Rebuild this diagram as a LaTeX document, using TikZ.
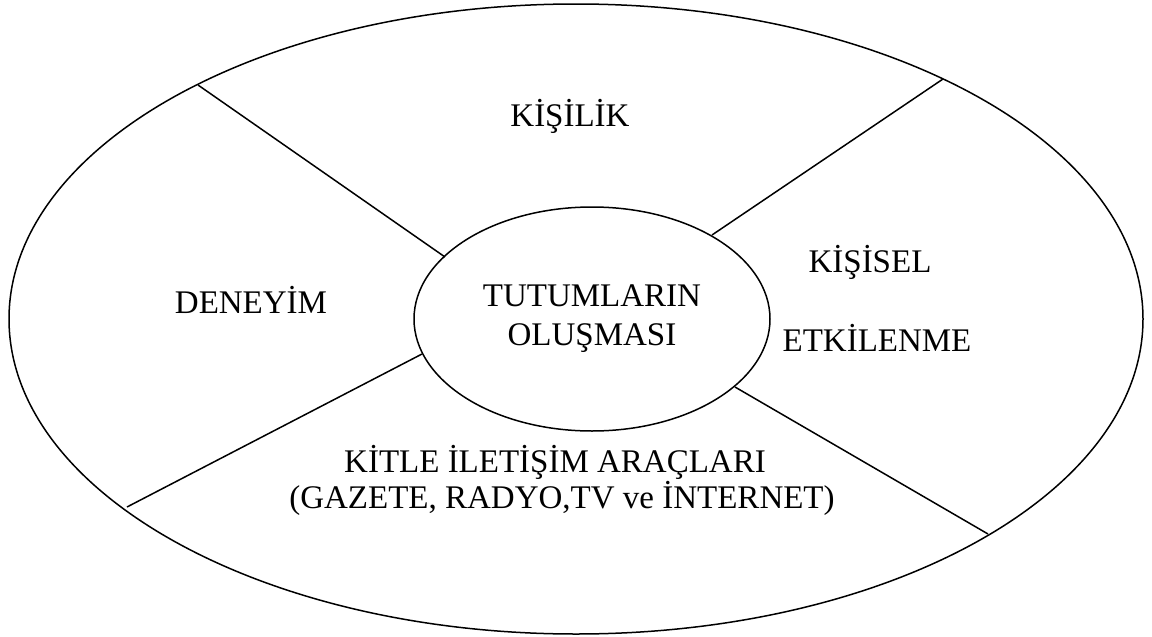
\documentclass[tikz,border=0pt]{standalone}
\usepackage{fontspec}
\setmainfont{Liberation Serif}
\usetikzlibrary{shapes.geometric}
\begin{document}
\begin{tikzpicture}[x=1pt, y=-1pt, line width=1.5pt,
  ring/.style={draw, ellipse, inner sep=0pt, outer sep=0pt},
  lbl/.style={font=\fontsize{33}{39}\selectfont, align=center, inner sep=0pt}]
\useasboundingbox (0,0) rectangle (1152,637);
% outer and inner ellipses
\node[ring, minimum width=1134pt, minimum height=630pt] (outer) at (576,319) {};
\node[ring, minimum width=356pt, minimum height=224pt, lbl] (inner) at (592,319) {TUTUMLARIN\\OLUŞMASI};
% end points of the four dividers
\coordinate (ulo) at (198,85);
\coordinate (uli) at (445,257);
\coordinate (uro) at (943,79);
\coordinate (uri) at (712,235);
\coordinate (llo) at (127,507);
\coordinate (lli) at (422,354);
\coordinate (lro) at (988,534);
\coordinate (lri) at (735,387);
\draw (ulo) -- (uli);
\draw (uro) -- (uri);
\draw (llo) -- (lli);
\draw (lro) -- (lri);
% sector labels
\node[lbl] (kisilik) at (570,116) {KİŞİLİK};
\node[lbl] (deneyim) at (251,300) {DENEYİM};
\node[lbl] (kisisel) at (870,262) {KİŞİSEL};
\node[lbl] (etki) at (877,338) {ETKİLENME};
\node[lbl] (kitle) at (555,462) {KİTLE İLETİŞİM ARAÇLARI};
\node[lbl] (gazete) at (562,498) {(GAZETE, RADYO,TV ve İNTERNET)};
\end{tikzpicture}
\end{document}
